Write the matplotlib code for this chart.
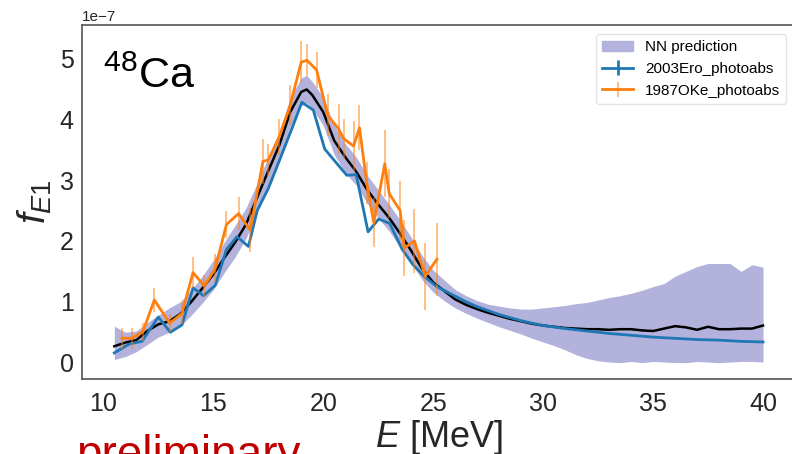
import matplotlib.pyplot as plt
import numpy as np
from matplotlib.patches import Patch

plt.switch_backend('agg')
plt.rcParams['font.family'] = ['Liberation Sans', 'DejaVu Sans']
plt.rcParams['mathtext.fontset'] = 'custom'
plt.rcParams['mathtext.rm'] = 'Liberation Sans'
plt.rcParams['mathtext.it'] = 'Liberation Sans:italic'

SCALE = 1e-7

# NN prediction (mean and band), in units of 1e-7
nn_e = [10.5, 11.0, 11.5, 12.0, 12.5, 13.0, 13.5, 14.0, 14.5, 15.0, 15.5, 16.0,
        16.5, 17.0, 17.5, 18.0, 18.5, 19.0, 19.25, 19.5, 20.0, 20.5, 21.0, 21.5,
        22.0, 22.5, 23.0, 23.5, 24.0, 24.5, 25.0, 25.5, 26.0, 26.5, 27.0, 27.5,
        28.0, 28.5, 29.0, 29.5, 30.0, 30.5, 31.0, 31.5, 32.0, 32.5, 33.0, 33.5,
        34.0, 34.5, 35.0, 35.5, 36.0, 36.5, 37.0, 37.5, 38.0, 38.5, 39.0, 39.5, 40.0]
nn_mean = [0.27, 0.33, 0.37, 0.52, 0.63, 0.68, 0.80, 1.00, 1.22, 1.45, 1.72, 1.98,
           2.28, 2.72, 3.15, 3.57, 4.12, 4.45, 4.49, 4.40, 4.12, 3.65, 3.38, 3.14,
           2.84, 2.60, 2.38, 2.12, 1.84, 1.54, 1.32, 1.18, 1.04, 0.95, 0.88, 0.82,
           0.77, 0.72, 0.68, 0.64, 0.61, 0.59, 0.57, 0.56, 0.55, 0.55, 0.54, 0.55,
           0.55, 0.53, 0.52, 0.56, 0.60, 0.58, 0.54, 0.59, 0.55, 0.55, 0.56, 0.56, 0.61]
nn_low = [0.05, 0.10, 0.18, 0.30, 0.42, 0.50, 0.60, 0.78, 0.98, 1.20, 1.48, 1.74,
          2.05, 2.48, 2.92, 3.32, 3.88, 4.22, 4.27, 4.18, 3.90, 3.42, 3.12, 2.92,
          2.62, 2.38, 2.16, 1.90, 1.64, 1.36, 1.16, 1.02, 0.90, 0.81, 0.73, 0.66,
          0.59, 0.53, 0.47, 0.40, 0.34, 0.28, 0.21, 0.13, 0.07, 0.03, 0.01, 0.00,
          0.02, 0.00, 0.02, 0.01, 0.00, 0.00, 0.02, 0.01, 0.00, 0.01, 0.02, 0.02, 0.01]
nn_high = [0.60, 0.50, 0.52, 0.66, 0.78, 0.90, 1.00, 1.20, 1.42, 1.68, 1.98, 2.26,
           2.55, 2.95, 3.38, 3.80, 4.35, 4.68, 4.72, 4.62, 4.36, 3.90, 3.60, 3.38,
           3.08, 2.84, 2.60, 2.34, 2.06, 1.76, 1.52, 1.36, 1.20, 1.10, 1.02, 0.96,
           0.93, 0.90, 0.88, 0.88, 0.90, 0.92, 0.94, 0.97, 0.99, 1.03, 1.07, 1.10,
           1.14, 1.19, 1.25, 1.30, 1.42, 1.50, 1.58, 1.63, 1.63, 1.63, 1.50, 1.61, 1.57]

# 2003Ero_photoabs
ero_e = [10.5, 11.2, 11.76, 12.5, 13.05, 13.58, 14.08, 14.56, 15.09, 15.6, 16.08,
         16.6, 17.0, 17.5, 18.05, 18.58, 19.03, 19.55, 20.07, 21.07, 21.5, 22.04,
         22.52, 23.02, 23.58, 24.08, 24.62, 25.17, 25.8, 26.5, 27.0, 28.0, 29.0,
         30.0, 31.0, 32.0, 33.0, 34.0, 35.0, 36.0, 37.0, 38.0, 39.0, 40.0]
ero_f = [0.16, 0.31, 0.35, 0.75, 0.50, 0.62, 1.23, 1.10, 1.27, 1.86, 2.07,
         1.91, 2.50, 2.86, 3.36, 3.85, 4.28, 4.15, 3.51, 3.08, 3.09, 2.15,
         2.36, 2.29, 1.87, 1.61, 1.41, 1.25, 1.13, 1.00, 0.92, 0.79, 0.69,
         0.61, 0.56, 0.52, 0.48, 0.45, 0.42, 0.40, 0.38, 0.37, 0.35, 0.34]

# 1987OKe_photoabs
oke_e = [10.85, 11.3, 11.8, 12.32, 13.02, 13.58, 14.08, 14.6, 15.09, 15.6, 16.15,
         16.68, 17.26, 17.5, 18.0, 18.5, 19.0, 19.26, 19.7, 20.2, 20.7, 20.93,
         21.38, 21.65, 21.98, 22.3, 22.8, 23.0, 23.5, 23.68, 24.15, 24.64, 25.17]
oke_f = [0.40, 0.40, 0.51, 1.03, 0.65, 0.81, 1.48, 1.26, 1.55, 2.27, 2.45,
         2.18, 3.31, 3.33, 3.71, 4.23, 4.94, 4.97, 4.81, 4.07, 3.84, 3.68,
         3.56, 3.86, 2.95, 2.30, 3.27, 2.78, 2.50, 1.88, 2.00, 1.42, 1.70]
oke_err = [0.17, 0.17, 0.15, 0.20, 0.15, 0.18, 0.25, 0.18, 0.23, 0.22, 0.27,
           0.36, 0.37, 0.26, 0.30, 0.33, 0.34, 0.26, 0.30, 0.35, 0.41, 0.33,
           0.41, 0.37, 0.35, 0.40, 0.55, 0.40, 0.49, 0.46, 0.52, 0.55, 0.60]

fig = plt.figure(figsize=(7.92, 4.54), dpi=100)
ax = fig.add_axes([0.1035, 0.165, 0.901, 0.78])

band_color = '#b2b2dc'
ax.fill_between(nn_e, np.array(nn_low) * SCALE, np.array(nn_high) * SCALE,
                color=band_color, lw=0, zorder=1)
ax.plot(nn_e, np.array(nn_mean) * SCALE, color='black', lw=1.8, zorder=3)
ax.errorbar(ero_e, np.array(ero_f) * SCALE, yerr=np.zeros(len(ero_f)),
            color='#1f77b4', lw=2, zorder=4, label='2003Ero_photoabs')
ax.errorbar(oke_e, np.array(oke_f) * SCALE, yerr=np.array(oke_err) * SCALE,
            color='#ff7f0e', ecolor=(1.0, 0.5, 0.05, 0.55), elinewidth=1.3,
            lw=2, zorder=5, label='1987OKe_photoabs')

ax.set_xlim(9.03, 41.48)
ax.set_ylim(-0.27 * SCALE, 5.55 * SCALE)
ax.set_xticks([10, 15, 20, 25, 30, 35, 40])
ax.set_yticks(np.array([0, 1, 2, 3, 4, 5]) * SCALE)
ax.ticklabel_format(axis='y', style='sci', scilimits=(0, 0))
ax.yaxis.get_offset_text().set_fontsize(11)
ax.tick_params(axis='both', length=0, labelsize=18, colors='#262626')
ax.tick_params(axis='x', pad=9)
ax.tick_params(axis='y', pad=6)
for sp in ax.spines.values():
    sp.set_color('#555555')
    sp.set_linewidth(1.2)

ax.set_xlabel('$E$ [MeV]', fontsize=26, color='#262626', labelpad=2)
ax.set_ylabel('$f_{E1}$', fontsize=28, color='#262626', labelpad=4)

ax.text(0.029, 0.822, '$^{48}$Ca', transform=ax.transAxes, fontsize=31,
        va='baseline', ha='left')

handles, labels = ax.get_legend_handles_labels()
handles = [Patch(color=band_color)] + handles
labels = ['NN prediction'] + labels
leg = ax.legend(handles, labels, loc='upper right', fontsize=11, frameon=True,
                borderaxespad=0.6)
leg.get_frame().set_edgecolor('#dddddd')

fig.text(76 / 792, -0.03, 'preliminary', color='#c00000', fontsize=33,
         va='baseline', ha='left')

fig.savefig('out.png', dpi=100)
